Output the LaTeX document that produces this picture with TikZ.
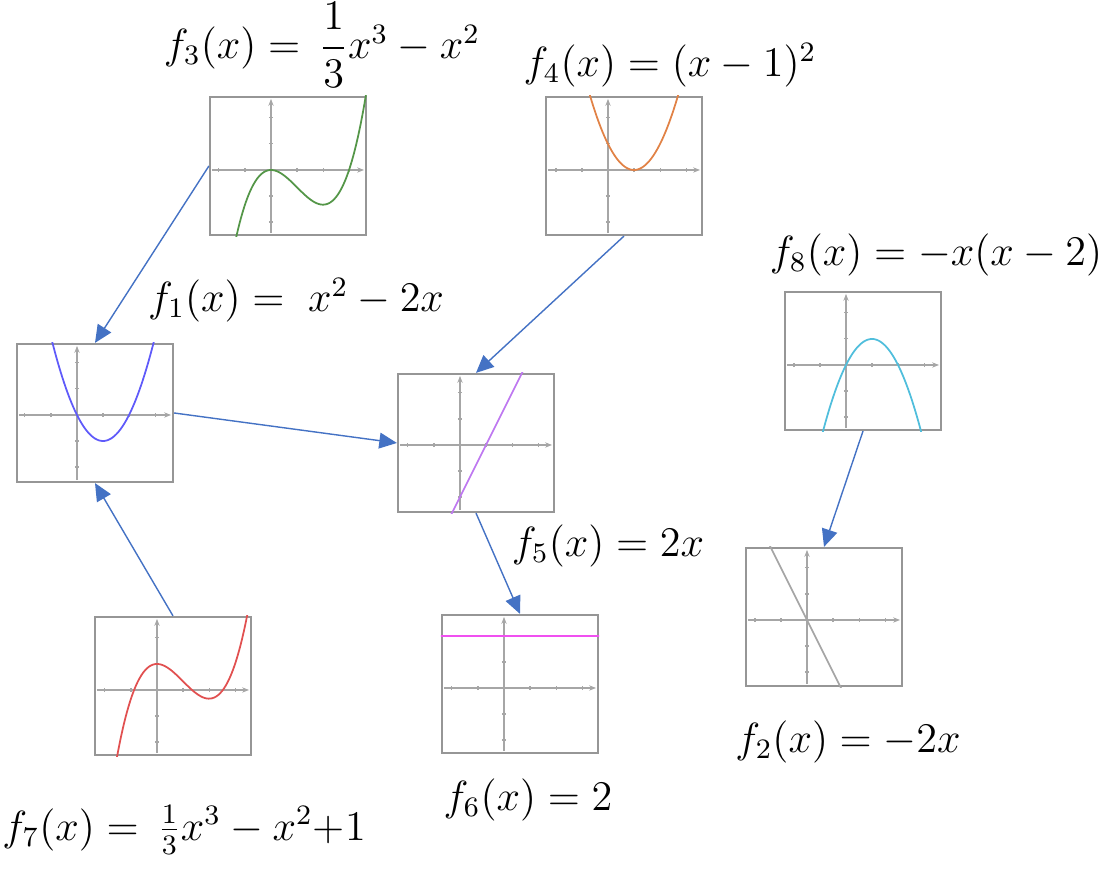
\documentclass[tikz,border=0pt]{standalone}
\usepackage{amsmath}
\usetikzlibrary{arrows.meta, positioning, calc}
\definecolor{linkblue}{RGB}{68,114,196}
\definecolor{boxgrey}{RGB}{150,150,150}
\definecolor{cgreen}{RGB}{84,150,72}
\definecolor{corange}{RGB}{225,130,70}
\definecolor{cviolet}{RGB}{95,90,250}
\definecolor{cpurple}{RGB}{190,120,240}
\definecolor{ccyan}{RGB}{80,190,220}
\definecolor{cgrey}{RGB}{165,165,165}
\definecolor{cred}{RGB}{225,80,80}
\definecolor{cmagenta}{RGB}{240,80,240}
\tikzset{
    graph/.style={
        rectangle, draw=boxgrey, line width=0.6pt, minimum width=1.56cm, minimum height=1.38cm, inner sep=0pt
    },
    axis/.style={
        draw=gray!70, line width=0.3pt, -{Stealth[length=2pt]}
    },
    link/.style={
        draw=linkblue, line width=0.4pt, -{Triangle[length=5pt, width=4.5pt]}
    },
    label/.style={
        font=\fontsize{12}{14}\selectfont
    }
}
% #1 name, #2 box centre, #3 origin of the axes, #4 function, #5 colour
\newcommand\funcbox[5]{%
    \node[graph] (#1) at (#2) {};
    \begin{scope}
        \clip (#1.south west) rectangle (#1.north east);
        \draw[axis] ($(#1.west |- #3)+(3,0)$) -- ($(#1.east |- #3)+(-3,0)$);
        \draw[axis] ($(#1.south -| #3)+(0,-3)$) -- ($(#1.north -| #3)+(0,3)$);
        \begin{scope}[shift={(#3)}, x=0.26cm, y=0.26cm]
            \foreach \i in {-4,...,5} {
                \draw[gray!70, line width=0.3pt] (\i,-0.08) -- (\i,0.08);
                \draw[gray!70, line width=0.3pt] (-0.08,\i) -- (0.08,\i);
            }
            \draw[#5, line width=0.5pt, domain=-4:5, samples=120, smooth] plot (\x, {#4});
        \end{scope}
    \end{scope}
}

\begin{document}
\begin{tikzpicture}[x=0.01cm, y=-0.01cm]
    \useasboundingbox (0,0) rectangle (1108,877);

    % Graphs
    \funcbox{f3}{288,166}{271,170}{\x*\x*\x/3-\x*\x}{cgreen}
    \funcbox{f4}{624,166}{608,170}{(\x-1)*(\x-1)}{corange}
    \funcbox{f1}{95,413}{77,415}{\x*\x-2*\x}{cviolet}
    \funcbox{f5}{476,443}{460,445}{2*\x-2}{cpurple}
    \funcbox{f8}{863,361}{846,365}{-\x*(\x-2)}{ccyan}
    \funcbox{f2}{824,617}{807,620}{-2*\x}{cgrey}
    \funcbox{f7}{173,686}{157,690}{\x*\x*\x/3-\x*\x+1}{cred}
    \funcbox{f6}{520,684}{504,688}{2}{cmagenta}

    % Labels
    \node[label] (l3) at (322,45) {$f_3(x) =\, \dfrac{1}{3}x^3 - x^2$};
    \node[label] (l4) at (670,65) {$f_4(x) = (x-1)^2$};
    \node[label] (l1) at (296,300) {$f_1(x) =\; x^2 - 2x$};
    \node[label] (l8) at (936,255) {$f_8(x) = -x(x-2)$};
    \node[label] (l5) at (608,546) {$f_5(x) = 2x$};
    \node[label] (l2) at (848,742) {$f_2(x) = -2x$};
    \node[label] (l6) at (528,800) {$f_6(x) = 2$};
    \node[label] (l7) at (184,830) {$f_7(x) =\, \tfrac{1}{3}x^3 - x^2$+1};

    % Links
    \draw[link] (f3.west) -- (f1.north);
    \draw[link] (f1.east) -- (f5.west);
    \draw[link] (f4.south) -- (f5.north);
    \draw[link] (f7.north) -- (f1.south);
    \draw[link] (f5.south) -- (f6.north);
    \draw[link] (f8.south) -- (f2.north);
\end{tikzpicture}
\end{document}
